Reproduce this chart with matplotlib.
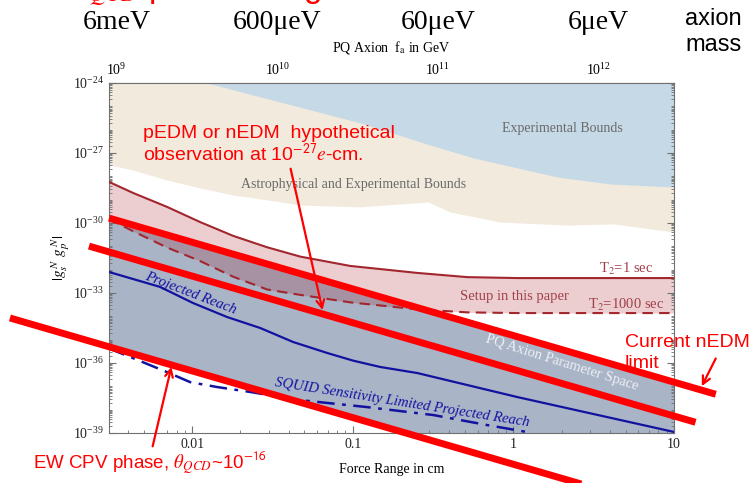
import numpy as np
import matplotlib.pyplot as plt
from matplotlib.ticker import LogLocator, FixedLocator, NullFormatter, FuncFormatter

plt.rcParams['font.family'] = ['Liberation Serif', 'DejaVu Serif']
plt.rcParams['mathtext.fontset'] = 'stix'

# all curves stored as log10(force range / cm) and log10(|gs gp|)
setup_lam = [-2.517, -2.368, -2.156, -1.950, -1.745, -1.533, -1.327, -1.016, -0.598, -0.287, 0.025, 0.500, 1.003]
t2_1s = [-28.24, -28.71, -29.31, -29.96, -30.55, -31.04, -31.44, -31.84, -32.14, -32.32, -32.36, -32.36, -32.36]
t2_1000s = [-29.83, -30.35, -31.05, -31.63, -32.30, -32.85, -33.08, -33.40, -33.70, -33.83, -33.86, -33.86, -33.86]

reach_lam = [-2.517, -2.199, -1.994, -1.782, -1.576, -1.371, -1.159, -0.997, -0.829, -0.598, 0.025, 1.003]
reach_g = [-32.10, -32.74, -33.43, -34.03, -34.50, -35.10, -35.57, -35.90, -36.17, -36.43, -37.46, -38.96]

squid_lam = [-2.523, -2.368, -2.156, -2.012, -1.844, -1.639, -1.452, -1.327, -0.910, -0.498, -0.162, 0.087]
squid_g = [-35.36, -35.79, -36.39, -36.82, -37.03, -37.24, -37.46, -37.59, -37.89, -38.23, -38.66, -38.96]

astro_lam = [-2.517, -2.368, -2.156, -1.950, -1.745, -1.533, -1.327, -0.953, -0.530, -0.393, -0.081, 0.336, 0.623, 1.003]
astro_g = [-27.51, -27.73, -28.16, -28.50, -28.80, -29.01, -29.23, -29.31, -29.10, -29.53, -29.96, -30.09, -30.04, -30.39]

exp_lam = [-1.907, -0.953, -0.517, -0.249, 0.274, 0.604, 1.003]
exp_g = [-24.00, -25.71, -26.66, -27.21, -28.03, -28.33, -28.46]

# PQ axion band, slope -2 in log-log
pq_lam = [-2.517, 1.003]
pq_upper = [-29.79, -36.83]
pq_lower = [-35.27, -42.31]

# EDM equivalent lines (slope -2)
nedm_lam = [-2.517, 1.26]
nedm_g = [-29.79, -37.34]
hypo_lam = [-2.642, 1.134]
hypo_g = [-30.99, -38.54]
ewcpv_lam = [-3.134, 0.56]
ewcpv_g = [-34.07, -41.46]

fa_offset = 11.47  # log10(fa/GeV) - log10(lambda/cm)
fa_ticks = [1e9, 1e10, 1e11, 1e12]
mass_labels = ['6meV', '600μeV', '60μeV', '6μeV']


def p(a):
    return 10 ** np.asarray(a, dtype=float)


fig = plt.figure(figsize=(7.53, 4.83), dpi=100)
ax = fig.add_axes([0.1448, 0.1035, 0.7503, 0.7247])
ax.set_xscale('log')
ax.set_yscale('log')
ax.set_xlim(10 ** -2.517, 10)
ax.set_ylim(1e-39, 1e-24)

top = 1e-24
ax.fill_between(p(astro_lam), p(astro_g), top, color='#f2eadd', lw=0, zorder=1)
ax.fill_between(p(exp_lam), p(exp_g), top, color='#c5d9e6', lw=0, zorder=1.1)
ax.fill_between(p(pq_lam), p(pq_lower), p(pq_upper), color='#a9b4c7', lw=0, zorder=1.2)
ax.fill_between(p(setup_lam), p(t2_1000s), p(t2_1s), color=(0.63, 0.04, 0.08), alpha=0.2, lw=0, zorder=1.3)

dred = '#a3262e'
ax.plot(p(setup_lam), p(t2_1s), color=dred, lw=1.5, zorder=3)
ax.plot(p(setup_lam), p(t2_1000s), color=dred, lw=1.5, ls=(0, (5, 3)), zorder=3)
ax.plot(p(reach_lam), p(reach_g), color='#1212a0', lw=1.6, zorder=3)
ax.plot(p(squid_lam), p(squid_g), color='#1212a0', lw=1.8, ls=(0, (7, 3, 1.5, 3)), zorder=3)

# labels inside the plot
gray = '#6a6a6a'
ax.text(p(0.305), p(-25.97), 'Experimental Bounds', color=gray, fontsize=10, ha='center', va='center')
ax.text(p(-0.997), p(-28.33), 'Astrophysical and Experimental Bounds', color=gray, fontsize=10, ha='center', va='center')
ax.text(p(0.006), p(-33.17), 'Setup in this paper', color='#a0404a', fontsize=10.5, ha='center', va='center')
ax.text(p(0.704), p(-31.97), 'T$_2$=1 sec', color='#a0404a', fontsize=10.5, ha='center', va='center')
ax.text(p(0.704), p(-33.52), 'T$_2$=1000 sec', color='#a0404a', fontsize=10.5, ha='center', va='center')
ax.text(p(-2.006), p(-33.0), 'Projected Reach', color='#1212a0', fontsize=10.5, style='italic',
        rotation=-21, rotation_mode='anchor', ha='center', va='center')
ax.text(p(-0.692), p(-37.72), 'SQUID Sensitivity Limited Projected Reach', color='#1212a0', fontsize=10.5,
        style='italic', rotation=-9, rotation_mode='anchor', ha='center', va='center')
ax.text(p(0.305), p(-36.0), 'PQ Axion Parameter Space', color='#eef0f4', fontsize=10.5,
        rotation=-17.5, rotation_mode='anchor', ha='center', va='center')

# axes styling
frame = '#707070'
for s in ax.spines.values():
    s.set_color(frame)
ax.tick_params(which='both', direction='in', top=False, right=True, colors='#222222', labelsize=10)
ax.tick_params(which='both', color=frame)
ax.tick_params(which='major', length=5)
ax.tick_params(which='minor', length=2.5)
ax.yaxis.set_major_locator(FixedLocator([1e-39, 1e-36, 1e-33, 1e-30, 1e-27, 1e-24]))
ax.yaxis.set_minor_locator(LogLocator(base=10, subs=np.arange(1, 10), numticks=200))
ax.yaxis.set_minor_formatter(NullFormatter())
ax.xaxis.set_major_locator(FixedLocator([0.01, 0.1, 1, 10]))
ax.xaxis.set_major_formatter(FuncFormatter(lambda v, _: f'{v:g}'))
ax.xaxis.set_minor_locator(LogLocator(base=10, subs=np.arange(2, 10), numticks=50))
ax.xaxis.set_minor_formatter(NullFormatter())
ax.set_xlabel('Force Range in cm', fontsize=10, labelpad=9)
ax.set_ylabel(r'$|g_s^{\,N}\ g_p^{\,N}|$', fontsize=11, labelpad=1)

secax = ax.secondary_xaxis('top', functions=(lambda x: x * 10 ** fa_offset, lambda f: f / 10 ** fa_offset))
secax.set_xticks(fa_ticks)
secax.xaxis.set_minor_locator(LogLocator(base=10, subs=np.arange(2, 10), numticks=50))
secax.xaxis.set_minor_formatter(NullFormatter())
secax.tick_params(which='both', direction='in', color=frame, labelsize=10)
secax.tick_params(which='major', length=5)
secax.tick_params(which='minor', length=2.5)
secax.spines['top'].set_color(frame)
secax.set_xlabel(r'PQ Axion  f$_{\rm a}$ in GeV', fontsize=10, labelpad=8)

# axion mass row above the top axis
for fa, lab in zip(fa_ticks, mass_labels):
    ax.text(fa / 10 ** fa_offset, 1.174, lab, transform=ax.get_xaxis_transform(), fontsize=20,
            ha='center', va='center', clip_on=False)
fig.text(685 / 753, 1 - 32 / 483, 'axion\nmass', family=['Liberation Sans'], fontsize=17,
         ha='left', va='center', linespacing=1.2)

# EDM reference lines drawn across the frame
for lam, g in [(nedm_lam, nedm_g), (hypo_lam, hypo_g), (ewcpv_lam, ewcpv_g)]:
    ax.plot(p(lam), p(g), color='red', lw=5, clip_on=False, solid_capstyle='butt', zorder=5)

red_kw = dict(color='red', family=['Liberation Sans'])
arrow = dict(arrowstyle='->', color='red', lw=1.6, mutation_scale=14)
ax.annotate('', xy=(p(-1.184), p(-33.85)), xytext=(290, 483 - 166), textcoords='figure pixels',
            arrowprops=arrow, annotation_clip=False, zorder=6)
ax.annotate('', xy=(p(-2.125), p(-36.05)), xytext=(152, 483 - 449), textcoords='figure pixels',
            arrowprops=arrow, annotation_clip=False, zorder=6)
ax.annotate('', xy=(p(1.165), p(-37.1)), xytext=(717, 483 - 356), textcoords='figure pixels',
            arrowprops=arrow, annotation_clip=False, zorder=6)

fig.text(143 / 753, 1 - 145 / 483, 'pEDM or nEDM  hypothetical\nobservation at 10$^{\\mathsf{-27}}$$e$-cm.',
         fontsize=14, ha='left', va='center', linespacing=1.1, **red_kw)
fig.text(625 / 753, 1 - 353 / 483, 'Current nEDM\nlimit', fontsize=14, ha='left', va='center',
         linespacing=1.35, **red_kw)
fig.text(33 / 753, 1 - 463 / 483, r'EW CPV phase, $\theta_{QCD}$~10$^{\mathsf{-16}}$', fontsize=13.5,
         ha='left', va='center', **red_kw)
# slide heading, mostly above the visible area
fig.text(72 / 753, 1 - 8 / 483, r'$\theta_{QCD}$ probe using ARIADNE', fontsize=24, ha='left',
         va='bottom', **red_kw)

fig.savefig('out.png', dpi=100)
